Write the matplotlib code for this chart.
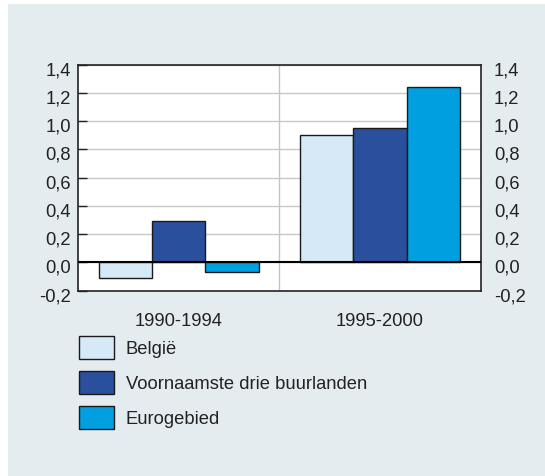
import matplotlib
matplotlib.use("Agg")
import matplotlib.pyplot as plt
from matplotlib.patches import Rectangle
from matplotlib.transforms import ScaledTranslation
import numpy as np

plt.rcParams['font.family'] = ['Liberation Sans', 'DejaVu Sans']

periods = ["1990-1994", "1995-2000"]
series_names = ["België", "Voornaamste drie buurlanden", "Eurogebied"]
belgie = [-0.11, 0.90]
buurlanden = [0.29, 0.95]
eurogebied = [-0.07, 1.24]
yticks = [-0.2, 0.0, 0.2, 0.4, 0.6, 0.8, 1.0, 1.2, 1.4]
ytick_labels = ["-0,2", "0,0", "0,2", "0,4", "0,6", "0,8", "1,0", "1,2", "1,4"]

colors = ["#d5e9f7", "#2a4f9c", "#009fe0"]
bg = "#e5ecf0"
txt = "#222222"
FS = 13.2

W, H = 545, 477
fig = plt.figure(figsize=(W/100, H/100), dpi=100)
fig.patch.set_facecolor("white")
fig.patches.append(Rectangle((8/W, 0), 1 - 8/W, 1 - 5/H, transform=fig.transFigure,
                             facecolor=bg, edgecolor="none", zorder=-10))

left, right, top, bottom = 78, 480.7, 65.7, 291.7
ax = fig.add_axes([left/W, 1 - bottom/H, (right-left)/W, (bottom-top)/H])
ax.set_facecolor("white")
ax.set_xlim(0, 2)
ax.set_ylim(-0.2, 1.4)

centers = np.array([0.5, 1.5])
bw = 0.265
for i, (vals, name) in enumerate(zip([belgie, buurlanden, eurogebied], series_names)):
    ax.bar(centers + (i - 1) * bw, vals, width=bw, color=colors[i], edgecolor="#1a1a1a",
           linewidth=1.0, label=name, zorder=3)

ax.axhline(0, color="black", linewidth=1.5, zorder=4)
ax.axvline(1.0, color="#c4c4c4", linewidth=1.0, zorder=1)
for y in yticks:
    ax.axhline(y, color="#c8c8c8", linewidth=1.0, zorder=1)

ax.set_yticks(yticks)
ax.set_yticklabels(ytick_labels)
ax.set_xticks(centers)
ax.set_xticklabels(periods)
ax.tick_params(axis='x', length=0, pad=15, labelsize=FS, colors=txt)
ax.tick_params(axis='y', direction='in', length=6.5, width=1.0, pad=5.3, labelsize=FS,
               left=True, right=True, labelleft=True, labelright=False, colors=txt)
for s in ax.spines.values():
    s.set_color(txt)
    s.set_linewidth(1.2)

ax2 = ax.twinx()
ax2.set_ylim(ax.get_ylim())
ax2.set_yticks(yticks)
ax2.set_yticklabels(ytick_labels)
ax2.tick_params(axis='y', direction='in', length=0, pad=9.5, labelsize=FS, colors=txt)
for s in ax2.spines.values():
    s.set_visible(False)

shift = ScaledTranslation(0, -3/100, fig.dpi_scale_trans)
for lab in ax.get_yticklabels() + ax2.get_yticklabels():
    lab.set_transform(lab.get_transform() + shift)

leg = fig.legend(loc="upper left", bbox_to_anchor=(79/W, 1 - 336.7/H), frameon=False,
                 fontsize=FS, handlelength=35/18.33, handleheight=1.554, labelspacing=0.655,
                 handletextpad=0.64, borderpad=0, borderaxespad=0)
for t in leg.get_texts():
    t.set_color(txt)

fig.savefig("out.png", dpi=100, facecolor=fig.get_facecolor())
